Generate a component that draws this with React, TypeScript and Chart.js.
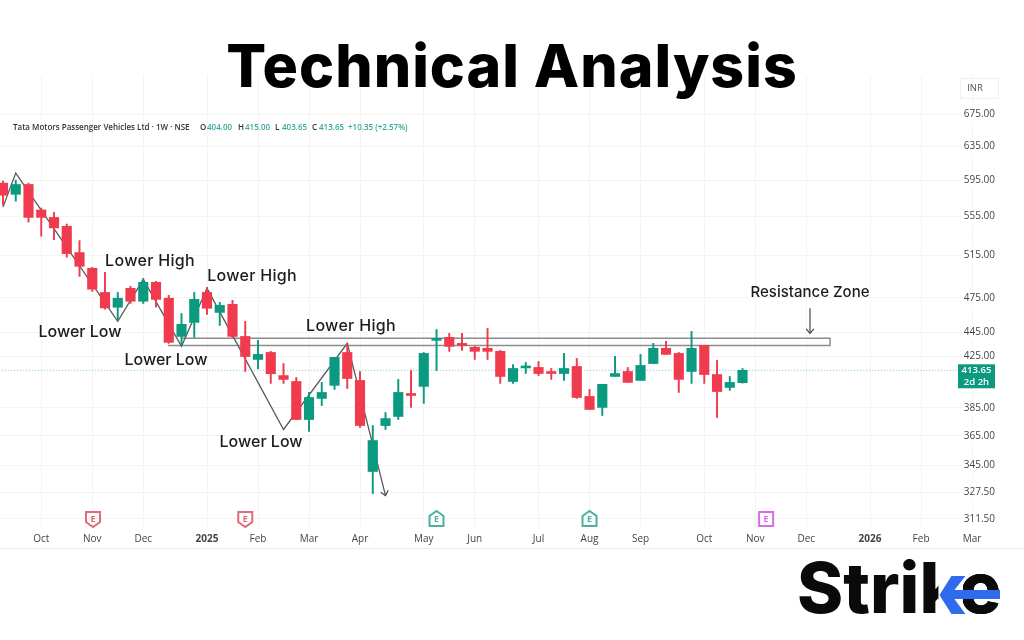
import { useEffect, useRef } from 'react';
import { Chart, registerables } from 'chart.js';

Chart.register(...registerables);

// weekly candles (week 0 = mid Sep 2024)
const opens = [591.5, 579, 590, 562, 554, 544.7, 518, 502.7, 480, 466.6, 483.8, 472, 489.4, 474.7, 441.3, 453.3, 480, 462, 469.2, 441.3, 422.3, 428, 409.5, 404.9, 376.5, 392, 401.9, 428, 405.7, 340.9, 372.2, 378.7, 395.7, 401.1, 438, 440.5, 434.7, 432.2, 431.4, 428.9, 404.9, 415.5, 415.9, 411.9, 411.1, 416.7, 393.5, 385.3, 408.8, 412.7, 405.7, 419, 431.4, 427.2, 412.7, 433.8, 410.3, 400.3, 404];
const highs = [593.8, 595, 591.5, 564, 559.5, 547, 530, 503.6, 498.9, 480, 485.7, 493, 490.3, 477.4, 461, 480, 484.8, 471, 472.8, 454.2, 438, 428.9, 419, 408, 396.5, 404.2, 424, 435.5, 412.7, 372.2, 381.6, 406.5, 413.5, 428, 447.2, 443.9, 443.9, 433, 448.1, 429.7, 418.2, 419.9, 420.7, 415.1, 427.2, 423.1, 398.8, 402.7, 424.8, 415.9, 426.4, 435.5, 437.2, 428, 445.6, 433.8, 421.5, 408.8, 415];
const lows = [567, 571.5, 549, 534.5, 531, 513.5, 495, 481, 465, 455, 470, 470, 466.6, 435.5, 433.8, 440.5, 460.3, 450.7, 440.5, 412.7, 415, 403.4, 403.4, 376.5, 368, 386.7, 398.8, 399.5, 370.8, 326.8, 369.4, 376.5, 385.4, 388.3, 413.5, 428.9, 429.7, 422.3, 422.3, 403.4, 403.4, 411.1, 409.5, 406.5, 405.7, 392, 383.8, 379.4, 408.8, 404.2, 405.7, 419, 426.4, 396.5, 403.4, 403.4, 378, 398, 403.65];
const closes = [578, 590, 554, 554, 543, 517, 504.6, 483, 466, 474.7, 472, 489.4, 473.7, 436.3, 451.6, 473.7, 465.7, 468.3, 441.3, 424.7, 426.4, 411, 406.5, 376.5, 392.7, 396.5, 424, 407.2, 372.2, 361.7, 377.2, 396.5, 394.2, 427.2, 439.7, 433, 433.8, 428.9, 428.9, 408.8, 415.1, 415.9, 411.1, 411.1, 415.1, 392.7, 383.8, 402.7, 411.1, 404.2, 417.5, 431.4, 426.4, 406.5, 431.4, 410.3, 397.2, 404.2, 413.65];

// hand-drawn swing line and resistance box, in week / price
const swingWeeks = [0, 1, 9, 11, 14, 16, 22, 27, 30];
const swingPrices = [565, 603, 454.2, 492.2, 433, 483.8, 369.4, 435.5, 325.5];
const zoneWeeks = [14, 64.86, 64.86, 12.94];
const zonePrices = [439.7, 439.7, 433.8, 433.8];
const arrowWeeks = [63.29, 63.29];
const arrowPrices = [465.7, 443.9];
const lastPrice = 413.65;

const noteTexts = ['Lower High', 'Lower High', 'Lower Low', 'Lower Low', 'Lower High', 'Lower Low', 'Resistance Zone'];
const noteWeeks = [11.53, 19.53, 6.04, 12.78, 27.29, 20.24, 63.29];
const notePrices = [509.4, 495.1, 444.7, 421.5, 449.9, 360.3, 480.2];

// earnings pins under the candles
const pinWeeks = [7.06, 19, 34, 46, 59.85];
const pinColors = ['#df6a78', '#df6a78', '#4fae9f', '#4fae9f', '#d56ee6'];
const pinShapes = ['down', 'down', 'up', 'up', 'box'];

const priceTicks = [675, 635, 595, 555, 515, 475, 445, 425, 385, 365, 345, 327.5, 311.5];
const timeTickWeeks = [3, 7, 11, 16, 20, 24, 28, 33, 37, 42, 46, 50, 55, 59, 63, 68, 72, 76];
const timeTickLabels = ['Oct', 'Nov', 'Dec', '2025', 'Feb', 'Mar', 'Apr', 'May', 'Jun', 'Jul', 'Aug', 'Sep', 'Oct', 'Nov', 'Dec', '2026', 'Feb', 'Mar'];

const UP = '#0b9a80';
const DOWN = '#ef3b4d';
const AXIS_FONT = '"Open Sans", sans-serif';
const NOTE_FONT = 'Inter, sans-serif';

const candleColor = (i: number) => (closes[i] >= opens[i] ? UP : DOWN);

const decorations = {
  id: 'decorations',
  afterDatasetsDraw(chart: Chart) {
    const { ctx, scales } = chart;
    const x = scales.x;
    const y = scales.y;
    ctx.save();

    // arrow heads
    const head = (x0: number, y0: number, x1: number, y1: number) => {
      const a = Math.atan2(y1 - y0, x1 - x0);
      ctx.strokeStyle = '#444';
      ctx.lineWidth = 1.2;
      ctx.beginPath();
      ctx.moveTo(x1 - 6 * Math.cos(a - 0.7), y1 - 6 * Math.sin(a - 0.7));
      ctx.lineTo(x1, y1);
      ctx.lineTo(x1 - 6 * Math.cos(a + 0.7), y1 - 6 * Math.sin(a + 0.7));
      ctx.stroke();
    };
    const n = swingWeeks.length - 1;
    head(
      x.getPixelForValue(swingWeeks[n - 1]), y.getPixelForValue(swingPrices[n - 1]),
      x.getPixelForValue(swingWeeks[n]), y.getPixelForValue(swingPrices[n])
    );
    head(
      x.getPixelForValue(arrowWeeks[0]), y.getPixelForValue(arrowPrices[0]),
      x.getPixelForValue(arrowWeeks[1]), y.getPixelForValue(arrowPrices[1])
    );

    // notes on the chart
    ctx.fillStyle = '#1c1c1c';
    ctx.textAlign = 'center';
    ctx.textBaseline = 'middle';
    noteTexts.forEach((t, i) => {
      ctx.font = t === 'Resistance Zone' ? `500 15px ${NOTE_FONT}` : `500 16px ${NOTE_FONT}`;
      (ctx as any).letterSpacing = t === 'Lower High' ? '0.3px' : '0px';
      ctx.fillText(t, x.getPixelForValue(noteWeeks[i]), y.getPixelForValue(notePrices[i]));
    });
    (ctx as any).letterSpacing = '0px';

    // earnings pins
    pinWeeks.forEach((w, i) => {
      const px = x.getPixelForValue(w);
      const py = 519;
      ctx.strokeStyle = pinColors[i];
      ctx.fillStyle = pinColors[i];
      ctx.lineWidth = 2;
      ctx.beginPath();
      if (pinShapes[i] === 'down') {
        ctx.moveTo(px - 7, py - 7);
        ctx.lineTo(px + 7, py - 7);
        ctx.lineTo(px + 7, py + 3);
        ctx.lineTo(px, py + 8);
        ctx.lineTo(px - 7, py + 3);
      } else if (pinShapes[i] === 'up') {
        ctx.moveTo(px - 7, py + 7);
        ctx.lineTo(px + 7, py + 7);
        ctx.lineTo(px + 7, py - 3);
        ctx.lineTo(px, py - 8);
        ctx.lineTo(px - 7, py - 3);
      } else {
        ctx.rect(px - 7, py - 7, 14, 14);
      }
      ctx.closePath();
      ctx.stroke();
      ctx.font = `700 9px ${AXIS_FONT}`;
      ctx.fillText('E', px, py);
    });

    // header strip of the platform
    ctx.textAlign = 'left';
    ctx.font = `600 8px ${AXIS_FONT}`;
    ctx.fillStyle = '#333';
    ctx.fillText('Tata Motors Passenger Vehicles Ltd · 1W · NSE', 13, 128);
    const legendLetters = ['O', 'H', 'L', 'C'];
    const legendValues = ['404.00', '415.00', '403.65', '413.65'];
    const legendX = [200, 238, 275, 312];
    legendLetters.forEach((l, i) => {
      ctx.fillStyle = '#333';
      ctx.fillText(l, legendX[i], 128);
      ctx.fillStyle = '#36a899';
      ctx.fillText(legendValues[i], legendX[i] + 7, 128);
    });
    ctx.fillText('+10.35 (+2.57%)', 348, 128);

    // last price tag and currency box
    const tagY = y.getPixelForValue(lastPrice);
    ctx.fillStyle = UP;
    ctx.fillRect(958, tagY - 6, 37, 24);
    ctx.fillStyle = '#fff';
    ctx.font = `600 9.5px ${AXIS_FONT}`;
    ctx.textAlign = 'center';
    ctx.fillText('413.65', 976.5, tagY);
    ctx.fillText('2d 2h', 976.5, tagY + 12);

    ctx.strokeStyle = '#f0f0f0';
    ctx.lineWidth = 1;
    ctx.strokeRect(960.5, 78.5, 38, 20);
    ctx.fillStyle = '#555';
    ctx.font = `400 9.5px ${AXIS_FONT}`;
    ctx.fillText('INR', 975, 88);

    // page title
    ctx.fillStyle = '#000';
    ctx.font = '800 59px Inter, sans-serif';
    (ctx as any).letterSpacing = '1px';
    ctx.fillText('Technical Analysis', 512, 69);
    (ctx as any).letterSpacing = '0px';

    // footer rule and logo
    ctx.strokeStyle = '#eeeeee';
    ctx.beginPath();
    ctx.moveTo(0, 548.5);
    ctx.lineTo(1024, 548.5);
    ctx.stroke();

    // the k arm is masked out and replaced by the blue arrow
    const logoX = 797;
    ctx.font = '800 70px Inter, sans-serif';
    ctx.textAlign = 'left';
    ctx.textBaseline = 'alphabetic';
    ctx.fillStyle = '#0a0a0a';
    ctx.fillText('Strike', logoX, 613);
    const stemRight = logoX + ctx.measureText('Stri').width + 19;
    const eLeft = logoX + ctx.measureText('Strik').width;
    ctx.fillStyle = '#fff';
    ctx.fillRect(stemRight, 565, eLeft - stemRight + 2, 50);
    ctx.fillStyle = '#0a0a0a';
    ctx.save();
    ctx.beginPath();
    ctx.rect(eLeft + 2, 565, 60, 50);
    ctx.clip();
    ctx.fillText('Strike', logoX, 613);
    ctx.restore();
    ctx.fillStyle = '#2f6bed';
    ctx.beginPath();
    ctx.moveTo(stemRight + 1, 595);
    ctx.lineTo(stemRight + 13, 576);
    ctx.lineTo(stemRight + 27, 576);
    ctx.lineTo(stemRight + 16, 590);
    ctx.lineTo(1000, 590);
    ctx.lineTo(1000, 599);
    ctx.lineTo(stemRight + 16, 599);
    ctx.lineTo(stemRight + 27, 614);
    ctx.lineTo(stemRight + 13, 614);
    ctx.closePath();
    ctx.fill();
    ctx.restore();
  },
};

const App = () => {
  const chartRef = useRef<HTMLCanvasElement>(null);

  useEffect(() => {
    if (!chartRef.current) return;
    document.body.style.margin = '0';

    const weeks = opens.map((_, i) => i);
    const chart = new Chart(chartRef.current, {
      type: 'bar',
      plugins: [decorations],
      data: {
        datasets: [
          {
            label: 'Body',
            order: 0,
            grouped: false,
            barThickness: 9.5,
            minBarLength: 2,
            data: weeks.map(i => ({ x: i, y: [opens[i], closes[i]] })),
            backgroundColor: weeks.map(candleColor),
          },
          {
            label: 'Wick',
            order: 1,
            grouped: false,
            barThickness: 1.3,
            data: weeks.map(i => ({ x: i, y: [lows[i], highs[i]] })),
            backgroundColor: weeks.map(candleColor),
          },
          {
            type: 'line',
            label: 'Swing',
            order: 2,
            data: swingWeeks.map((w, i) => ({ x: w, y: swingPrices[i] })),
            borderColor: '#5a5a5a',
            borderWidth: 1.3,
            pointRadius: 0,
            tension: 0,
          },
          {
            type: 'line',
            label: 'Arrow',
            order: 2,
            data: arrowWeeks.map((w, i) => ({ x: w, y: arrowPrices[i] })),
            borderColor: '#444',
            borderWidth: 1.2,
            pointRadius: 0,
          },
          {
            type: 'line',
            label: 'Zone',
            order: 3,
            data: zoneWeeks.map((w, i) => ({ x: w, y: zonePrices[i] })),
            borderColor: '#8c8c8c',
            borderWidth: 1.5,
            pointRadius: 0,
            tension: 0,
          },
          {
            type: 'line',
            label: 'Last',
            order: 4,
            data: [{ x: -0.3, y: lastPrice }, { x: 74.85, y: lastPrice }],
            borderColor: 'rgba(11,154,128,0.55)',
            borderWidth: 1,
            borderDash: [1, 2],
            pointRadius: 0,
          },
        ],
      } as any,
      options: {
        responsive: false,
        animation: false,
        layout: { padding: { top: 75, right: 29, left: 0, bottom: 0 } },
        plugins: {
          legend: { display: false },
          title: { display: false },
          tooltip: { enabled: false },
        },
        scales: {
          x: {
            type: 'linear',
            offset: false,
            min: -0.235,
            max: 77.8,
            border: { display: false },
            grid: { color: '#f4f4f4', offset: false, drawTicks: false },
            afterFit: (s: any) => { s.height = 113; },
            afterBuildTicks: (s: any) => { s.ticks = timeTickWeeks.map(value => ({ value })); },
            ticks: {
              autoSkip: false,
              maxRotation: 0,
              padding: 6,
              color: '#444',
              font: (c: any) => ({
                family: AXIS_FONT,
                size: 10,
                weight: c.index === 3 || c.index === 15 ? 700 : 400,
              }),
              callback: (_v: any, i: number) => timeTickLabels[i],
            },
          },
          y: {
            type: 'logarithmic',
            position: 'right',
            min: 306.6,
            max: 727.3,
            border: { display: false },
            grid: { color: '#f4f4f4', drawTicks: false },
            afterFit: (s: any) => { s.width = 0; },
            afterBuildTicks: (s: any) => { s.ticks = priceTicks.map(value => ({ value })); },
            ticks: {
              mirror: true,
              padding: 0,
              color: '#444',
              showLabelBackdrop: true,
              backdropColor: '#fff',
              font: { family: AXIS_FONT, size: 10 },
              callback: (v: any) => Number(v).toFixed(2),
            },
          },
        },
      } as any,
    });

    return () => {
      chart.destroy();
    };
  }, []);

  return <canvas ref={chartRef} width={1024} height={640} style={{ display: 'block' }}></canvas>;
};

export default App;
